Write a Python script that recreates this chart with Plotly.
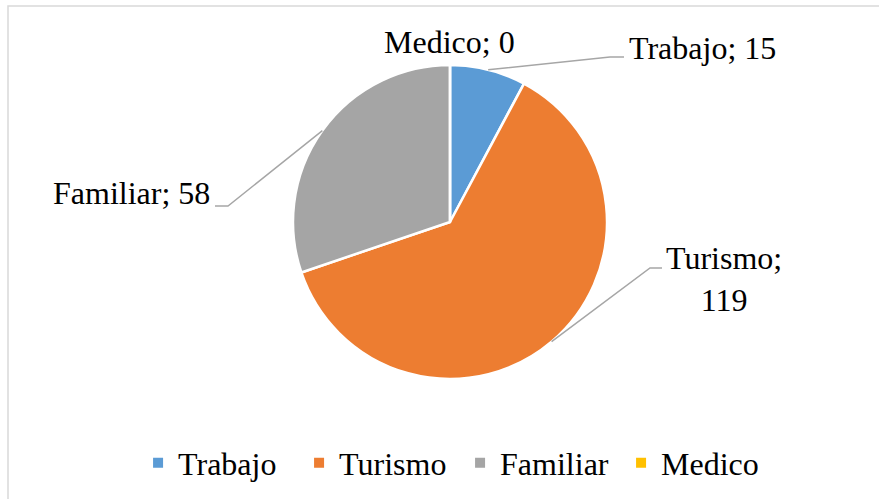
import math
import plotly.graph_objects as go

# ---- data ----
categories = ["Trabajo", "Turismo", "Familiar", "Medico"]
values = [15, 119, 58, 0]
colors = ["#5B9BD5", "#ED7D31", "#A5A5A5", "#FFC000"]

W, H = 879, 499
FONT = "Liberation Serif"
FS = 32

# pie geometry (pixels)
cx, cy, R = 450, 222, 157

def px(x):
    return x / W

def py(y):
    return 1 - y / H

fig = go.Figure()
fig.add_trace(go.Pie(
    labels=categories,
    values=values,
    marker=dict(colors=colors, line=dict(color="white", width=2.5)),
    sort=False,
    direction="clockwise",
    rotation=0,
    textinfo="none",
    hoverinfo="label+value",
    domain=dict(x=[px(cx - R), px(cx + R)], y=[py(cy + R), py(cy - R)]),
))

# label placement (text anchor positions in px) and leader line elbows
label_pos = {
    "Trabajo": (702, 48, None),
    "Turismo": (724, 279, (650, 268, 662)),
    "Familiar": (131, 193, (228, 206, 215)),
    "Medico": (449, 42, None),
}

total = sum(values)
cum = 0
shapes = []
annotations = []
for cat, v in zip(categories, values):
    mid = (cum + v / 2) / total * 2 * math.pi
    cum += v
    ex = cx + R * math.sin(mid)
    ey = cy - R * math.cos(mid)
    lx, ly, elbow = label_pos[cat]
    text = f"{cat}; {v}" if cat != "Turismo" else f"{cat};<br>{v}"
    annotations.append(dict(
        x=px(lx), y=py(ly), xref="paper", yref="paper",
        text=text, showarrow=False, xanchor="center", yanchor="middle",
        font=dict(family=FONT, size=FS, color="black"), align="center",
    ))
    line = dict(color="#A6A6A6", width=1.5)
    if cat == "Trabajo":
        shapes.append(dict(type="path", xref="paper", yref="paper",
                           path=f"M {px(ex)},{py(ey)} L {px(610)},{py(57)} L {px(624)},{py(57)}",
                           line=line))
    elif elbow is not None:
        bx, by, endx = elbow
        shapes.append(dict(type="path", xref="paper", yref="paper",
                           path=f"M {px(ex)},{py(ey)} L {px(bx)},{py(by)} L {px(endx)},{py(by)}",
                           line=line))

# chart frame
shapes.append(dict(type="rect", xref="paper", yref="paper",
                   x0=px(8), y0=py(505), x1=px(885), y1=py(6),
                   line=dict(color="#D9D9D9", width=1.5), fillcolor="rgba(0,0,0,0)"))

fig.update_layout(
    width=W, height=H,
    margin=dict(l=0, r=0, t=0, b=0),
    paper_bgcolor="white",
    plot_bgcolor="white",
    showlegend=True,
    legend=dict(
        orientation="h", x=0.5234, xanchor="center", y=py(463), yanchor="middle",
        font=dict(family=FONT, size=FS, color="black"),
        itemsizing="constant", traceorder="normal",
        entrywidth=116, entrywidthmode="pixels",
    ),
    shapes=shapes,
    annotations=annotations,
)

fig.write_html("out.html", config={"displayModeBar": False},
               post_script="document.body.style.margin='0';document.body.style.overflow='hidden';")
